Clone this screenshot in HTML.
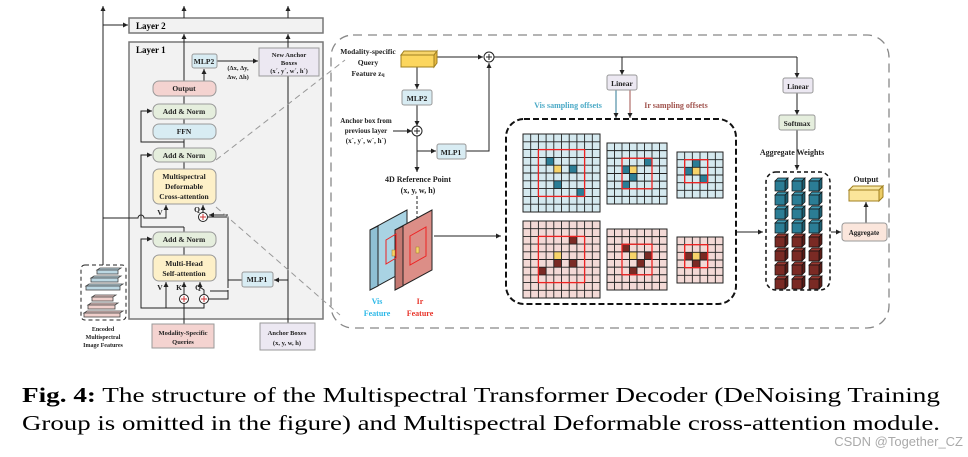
<!DOCTYPE html>
<html><head><meta charset="utf-8">
<style>
html,body{margin:0;padding:0;background:#fff;}
svg{display:block;font-family:"Liberation Serif",serif;}
</style></head>
<body>
<svg id="s" width="968" height="457" viewBox="0 0 968 457" xmlns="http://www.w3.org/2000/svg">
<defs>
<marker id="a" markerWidth="6" markerHeight="6" refX="5" refY="3" orient="auto"><path d="M0,0.5 L5,3 L0,5.5z" fill="#222"/></marker>
</defs>
<g stroke="#222" stroke-width="1" fill="none">
<rect x="129" y="18" width="194" height="15" fill="#f2f2f2" stroke="#777" stroke-width="1.5"/>
<rect x="129" y="42" width="194" height="277" fill="#f2f2f2" stroke="#777" stroke-width="1.5"/>
<line x1="103" y1="265" x2="103" y2="6" marker-end="url(#a)"/>
<line x1="103" y1="25" x2="128" y2="25" marker-end="url(#a)"/>
<line x1="184" y1="18" x2="184" y2="6" marker-end="url(#a)"/>
<line x1="288" y1="18" x2="288" y2="6" marker-end="url(#a)"/>
<line x1="184" y1="81" x2="184" y2="34" marker-end="url(#a)"/>
<line x1="288" y1="48" x2="288" y2="34" marker-end="url(#a)"/>
<line x1="288" y1="323" x2="288" y2="76"/>
<line x1="204" y1="81" x2="204" y2="69" marker-end="url(#a)"/>
<line x1="217" y1="61" x2="258" y2="61" marker-end="url(#a)"/>
<line x1="184" y1="96" x2="184" y2="104"/>
<line x1="184" y1="119" x2="184" y2="124"/>
<line x1="184" y1="139" x2="184" y2="148"/>
<line x1="184" y1="162" x2="184" y2="169"/>
<path d="M184,142 H141 V111 H152" marker-end="url(#a)"/>
<path d="M184,227 H141 V155 H152" marker-end="url(#a)"/>
<path d="M184,227 V232"/>
<path d="M184,247 V255"/>
<path d="M184,308 H141 V239 H152" marker-end="url(#a)"/>
<path d="M103,218 H138 a3,3 0 0 1 6,0 H166 V205" marker-end="url(#a)"/>
<line x1="203" y1="212" x2="203" y2="205" marker-end="url(#a)"/>
<path d="M208,217 H228 V288" />
<line x1="228" y1="215" x2="209" y2="215" marker-end="url(#a)"/>
<line x1="242" y1="280" x2="228" y2="280"/>
<line x1="288" y1="280" x2="274" y2="280" marker-end="url(#a)"/>
<path d="M228,291 H210" />
<path d="M204,294 V290 L200,287 V282" marker-end="url(#a)"/>
<line x1="184" y1="294" x2="184" y2="282" marker-end="url(#a)"/>
<line x1="184" y1="324" x2="184" y2="304"/>
<path d="M184,308 H166 V282" marker-end="url(#a)"/>
<path d="M184,308 H204 V304"/>
<path d="M204,299 H228 V290"/>
<circle cx="203" cy="217" r="4.5" fill="#fff"/>
<circle cx="184" cy="299" r="4.5" fill="#fff"/>
<circle cx="204" cy="299" r="4.5" fill="#fff"/>
<path d="M200,217h6M203,214v6M181,299h6M184,296v6M201,299h6M204,296v6" stroke="#c33"/>
<rect x="153" y="81" width="63" height="15" rx="6" fill="#f4d3d0" stroke="#999"/>
<rect x="153" y="104" width="63" height="15" rx="6" fill="#e5eedd" stroke="#999"/>
<rect x="153" y="124" width="63" height="15" rx="6" fill="#d8ecf3" stroke="#999"/>
<rect x="153" y="148" width="63" height="14" rx="6" fill="#e5eedd" stroke="#999"/>
<rect x="153" y="169" width="63" height="35" rx="6" fill="#fdf0c8" stroke="#999"/>
<rect x="153" y="232" width="63" height="15" rx="6" fill="#e5eedd" stroke="#999"/>
<rect x="153" y="255" width="63" height="26" rx="6" fill="#fdf0c8" stroke="#999"/>
<rect x="192" y="54" width="25" height="14" rx="2" fill="#d8ecf3" stroke="#999"/>
<rect x="242" y="272" width="31" height="15" rx="2" fill="#d8ecf3" stroke="#999"/>
<rect x="259" y="48" width="60" height="28" fill="#ece8f2" stroke="#999"/>
<rect x="152" y="324" width="62" height="24" fill="#f4d3d0" stroke="#999"/>
<rect x="260" y="323" width="55" height="27" fill="#ece8f2" stroke="#999"/>
<rect x="81" y="265" width="45" height="55" rx="4" stroke-dasharray="4,3"/>
<line x1="216" y1="160" x2="345" y2="60" stroke="#999" stroke-dasharray="6,4"/>
<line x1="216" y1="207" x2="340" y2="315" stroke="#999" stroke-dasharray="6,4"/>
<rect x="331" y="35" width="558" height="293" rx="22" stroke="#888" stroke-width="1.3" stroke-dasharray="9,6"/>
<rect x="506" y="119" width="230" height="185" rx="18" stroke="#111" stroke-width="2" stroke-dasharray="6,3"/>
<rect x="766" y="172" width="64" height="118" rx="10" stroke="#111" stroke-width="1.5" stroke-dasharray="4,3"/>
<line x1="437" y1="57" x2="483" y2="57" marker-end="url(#a)"/>
<line x1="494" y1="57" x2="797" y2="57"/>
<line x1="622" y1="57" x2="622" y2="75" marker-end="url(#a)"/>
<line x1="797" y1="57" x2="797" y2="78" marker-end="url(#a)"/>
<line x1="797" y1="93" x2="797" y2="115" marker-end="url(#a)"/>
<line x1="797" y1="130" x2="797" y2="170" marker-end="url(#a)"/>
<line x1="616" y1="90" x2="616" y2="118" stroke="#2c7a94" marker-end="url(#a)"/>
<line x1="630" y1="90" x2="630" y2="118" stroke="#a0524c" marker-end="url(#a)"/>
<line x1="417" y1="66" x2="417" y2="89" marker-end="url(#a)"/>
<line x1="417" y1="105" x2="417" y2="126" marker-end="url(#a)"/>
<line x1="393" y1="131" x2="412" y2="131" marker-end="url(#a)"/>
<line x1="417" y1="136" x2="417" y2="172" marker-end="url(#a)"/>
<line x1="417" y1="151" x2="436" y2="151" marker-end="url(#a)"/>
<path d="M466,151 H489 V63" marker-end="url(#a)"/>
<line x1="417" y1="196" x2="417" y2="230" stroke-dasharray="3,2"/>
<line x1="434" y1="236" x2="501" y2="236" marker-end="url(#a)"/>
<line x1="737" y1="232" x2="763" y2="232" marker-end="url(#a)"/>
<line x1="831" y1="232" x2="841" y2="232" marker-end="url(#a)"/>
<line x1="866" y1="223" x2="866" y2="202" marker-end="url(#a)"/>
<circle cx="489" cy="57" r="5" fill="#fff"/>
<circle cx="417" cy="131" r="5" fill="#fff"/>
<path d="M486,57h6M489,54v6M414,131h6M417,128v6"/>
<rect x="607" y="75" width="30" height="15" rx="2" fill="#ece8f2" stroke="#999"/>
<rect x="783" y="78" width="30" height="15" rx="2" fill="#ece8f2" stroke="#999"/>
<rect x="779" y="115" width="36" height="15" rx="2" fill="#e5eedd" stroke="#999"/>
<rect x="402" y="90" width="30" height="15" rx="2" fill="#d8ecf3" stroke="#999"/>
<rect x="437" y="144" width="29" height="15" rx="2" fill="#d8ecf3" stroke="#999"/>
<rect x="842" y="223" width="45" height="18" rx="3" fill="#fbe6dc" stroke="#999"/>
<polygon points="401,55 434,55 437,51 404,51" fill="#f7d46a" stroke="#a08020"/>
<polygon points="434,55 437,51 437,63 434,67" fill="#e7b93e" stroke="#a08020"/>
<rect x="401" y="55" width="33" height="12" fill="#fcd65e" stroke="#a08020"/>
<polygon points="849,190 879,190 883,186 853,186" fill="#f7e6a0" stroke="#a08020"/>
<polygon points="879,190 883,186 883,197 879,201" fill="#eccc66" stroke="#a08020"/>
<rect x="849" y="190" width="30" height="11" fill="#fbe59a" stroke="#a08020"/>
<polygon points="370,230 407,210 407,270 370,290" fill="#a9d3e3" stroke="#222"/>
<polygon points="370,230 378,226 378,286 370,290" fill="#8fc0d4" stroke="#222"/>
<polygon points="395,230 432,210 432,270 395,290" fill="#dc8e87" stroke="#222"/>
<polygon points="395,230 403,226 403,286 395,290" fill="#c47871" stroke="#222"/>
<polygon points="386,240 396,234 396,258 386,264" stroke="#e22"/>
<polygon points="410,236 426,227 426,256 410,265" stroke="#e22"/>
<rect x="392" y="250" width="3" height="6" fill="#f7d46a" stroke="#a08020" stroke-width="0.5"/>
<rect x="416" y="247" width="3" height="6" fill="#f7d46a" stroke="#a08020" stroke-width="0.5"/>
<g id="grids"></g>
<g id="cubes"></g>
<g fill="#bcd8e3" stroke="#444" stroke-width="0.8">
<polygon points="97,270 118,270 121,268 100,268"/><rect x="97" y="270" width="21" height="4"/>
<polygon points="91,278 118,278 121,276 94,276"/><rect x="91" y="278" width="27" height="4"/>
<polygon points="86,286 120,286 123,284 89,284"/><rect x="86" y="286" width="34" height="4"/>
</g>
<g fill="#f0cfcb" stroke="#444" stroke-width="0.8">
<polygon points="92,297 113,297 116,295 95,295"/><rect x="92" y="297" width="21" height="4"/>
<polygon points="88,305 115,305 118,303 91,303"/><rect x="88" y="305" width="27" height="4"/>
<polygon points="84,313 120,313 123,311 87,311"/><rect x="84" y="313" width="36" height="4"/>
</g>
</g>
<g font-size="7.5" text-anchor="middle" fill="#222" font-weight="bold">
<text x="184" y="91">Output</text>
<text x="184" y="114">Add &amp; Norm</text>
<text x="184" y="134">FFN</text>
<text x="184" y="158">Add &amp; Norm</text>
<text x="184" y="179">Multispectral</text>
<text x="184" y="189">Deformable</text>
<text x="184" y="199">Cross-attention</text>
<text x="184" y="242">Add &amp; Norm</text>
<text x="184" y="266">Multi-Head</text>
<text x="184" y="276">Self-attention</text>
<text x="204" y="64">MLP2</text>
<text x="257" y="282">MLP1</text>
<text x="289" y="57" font-size="6.5">New Anchor</text>
<text x="289" y="65" font-size="6.5">Boxes</text>
<text x="289" y="73" font-size="6.5">(x´, y´, w´, h´)</text>
<text x="238" y="70" font-size="6.5">(Δx, Δy,</text>
<text x="238" y="79" font-size="6.5">Δw, Δh)</text>
<text x="183" y="335" font-size="6.5">Modality-Specific</text>
<text x="183" y="344" font-size="6.5">Queries</text>
<text x="287" y="335" font-size="6.5">Anchor Boxes</text>
<text x="287" y="345" font-size="6.5">(x, y, w, h)</text>
<text x="103" y="331" font-size="6">Encoded</text>
<text x="103" y="339" font-size="6">Multispectral</text>
<text x="103" y="347" font-size="6">Image Features</text>
<text x="160" y="215">V</text><text x="197" y="212">Q</text>
<text x="160" y="290">V</text><text x="179" y="290">K</text><text x="198" y="290">Q</text>
<text x="622" y="86">Linear</text>
<text x="798" y="89">Linear</text>
<text x="797" y="126">Softmax</text>
<text x="417" y="101">MLP2</text>
<text x="451" y="155">MLP1</text>
<text x="864" y="235" font-size="7">Aggregate</text>
<text x="866" y="182" font-size="8">Output</text>
<text x="792" y="155" font-size="8">Aggregate  Weights</text>
<text x="418" y="182" font-size="8">4D Reference Point</text>
<text x="418" y="193" font-size="8">(x, y, w, h)</text>
<text x="368" y="54" font-size="7.5">Modality-specific</text>
<text x="368" y="65" font-size="7.5">Query</text>
<text x="368" y="76" font-size="7.5">Feature z<tspan font-size="5.5">q</tspan></text>
<text x="366" y="123" font-size="7">Anchor box from</text>
<text x="366" y="133" font-size="7">previous layer</text>
<text x="366" y="143" font-size="7">(x´, y´, w´, h´)</text>
<text x="568" y="108" font-size="8" fill="#4aa9c6">Vis sampling offsets</text>
<text x="676" y="108" font-size="8" fill="#a0524c">Ir sampling offsets</text>
<text x="377" y="304" font-size="8" fill="#2bb8e8">Vis</text>
<text x="377" y="316" font-size="8" fill="#2bb8e8">Feature</text>
<text x="420" y="304" font-size="8" fill="#e8342a">Ir</text>
<text x="420" y="316" font-size="8" fill="#e8342a">Feature</text>
</g>
<text x="136" y="53" font-size="9" font-weight="bold">Layer 1</text>
<text x="136" y="29" font-size="9" font-weight="bold">Layer 2</text>
<text x="22" y="402" font-size="21.5" textLength="918" lengthAdjust="spacingAndGlyphs"><tspan font-weight="bold">Fig. 4:</tspan> The structure of the Multispectral Transformer Decoder (DeNoising Training</text>
<text x="22" y="430" font-size="21.5" textLength="918" lengthAdjust="spacingAndGlyphs">Group is omitted in the figure) and Multispectral Deformable cross-attention module.</text>
<text x="963" y="446" font-size="13" fill="#aaa" text-anchor="end" font-family="Liberation Sans, sans-serif">CSDN @Together_CZ</text>
</svg>
<script>
var NS="http://www.w3.org/2000/svg";
function el(t,a,p){var e=document.createElementNS(NS,t);for(var k in a)e.setAttribute(k,a[k]);p.appendChild(e);return e;}
var g=document.getElementById("grids");
function grid(x,y,w,h,n,bg,dark,red,marks){
 var c=w/n,r=h/n;
 el("rect",{x:x,y:y,width:w,height:h,fill:bg,stroke:"#222","stroke-width":1},g);
 marks.forEach(function(m){el("rect",{x:x+m[0]*c,y:y+m[1]*r,width:c,height:r,fill:m[2]?"#f7d46a":dark,stroke:"none"},g);});
 for(var i=1;i<n;i++){el("line",{x1:x+i*c,y1:y,x2:x+i*c,y2:y+h,stroke:"#222","stroke-width":0.9},g);el("line",{x1:x,y1:y+i*r,x2:x+w,y2:y+i*r,stroke:"#222","stroke-width":0.9},g);}
 el("rect",{x:x+red[0]*c,y:y+red[1]*r,width:red[2]*c,height:red[2]*r,fill:"none",stroke:"#e22","stroke-width":1.3},g);
}
var B="#2b7d95",R="#7a2a24",LB="#d5e9ef",LR="#f3d9d6";
grid(523,134,77,78,10,LB,B,[2,2,6],[[3,3],[4,4,1],[6,4],[4,6],[7,7]]);
grid(607,143,60,61,8,LB,B,[2,2,4],[[2,3],[3,3,1],[5,2],[3,4],[2,5]]);
grid(677,152,46,46,6,LB,B,[1,1,3],[[2,1],[2,2,1],[1,2],[3,3]]);
grid(523,221,77,77,10,LR,R,[2,2,6],[[6,2],[4,4,1],[4,5],[6,5],[2,6]]);
grid(607,229,60,61,8,LR,R,[2,2,4],[[2,2],[3,3,1],[5,3],[4,4],[3,5]]);
grid(677,237,46,46,6,LR,R,[1,1,3],[[1,2],[2,2,1],[3,2],[2,3]]);
var cb=document.getElementById("cubes");
for(var col=0;col<3;col++)for(var row=0;row<8;row++){
 var x=775+col*17,y=178+row*14,s=10,d=3,f=row<4?B:R,ft=row<4?"#3f9ab3":"#9a3a32",fs=row<4?"#1d5f72":"#5a1c17";
 el("polygon",{points:[x,y+d,x+d,y,x+d+s,y,x+s,y+d].join(" "),fill:ft,stroke:"#111","stroke-width":0.7},cb);
 el("polygon",{points:[x+s,y+d,x+s+d,y,x+s+d,y+s,x+s,y+s+d].join(" "),fill:fs,stroke:"#111","stroke-width":0.7},cb);
 el("rect",{x:x,y:y+d,width:s,height:s,fill:f,stroke:"#111","stroke-width":0.7},cb);
}
</script>
</body></html>
